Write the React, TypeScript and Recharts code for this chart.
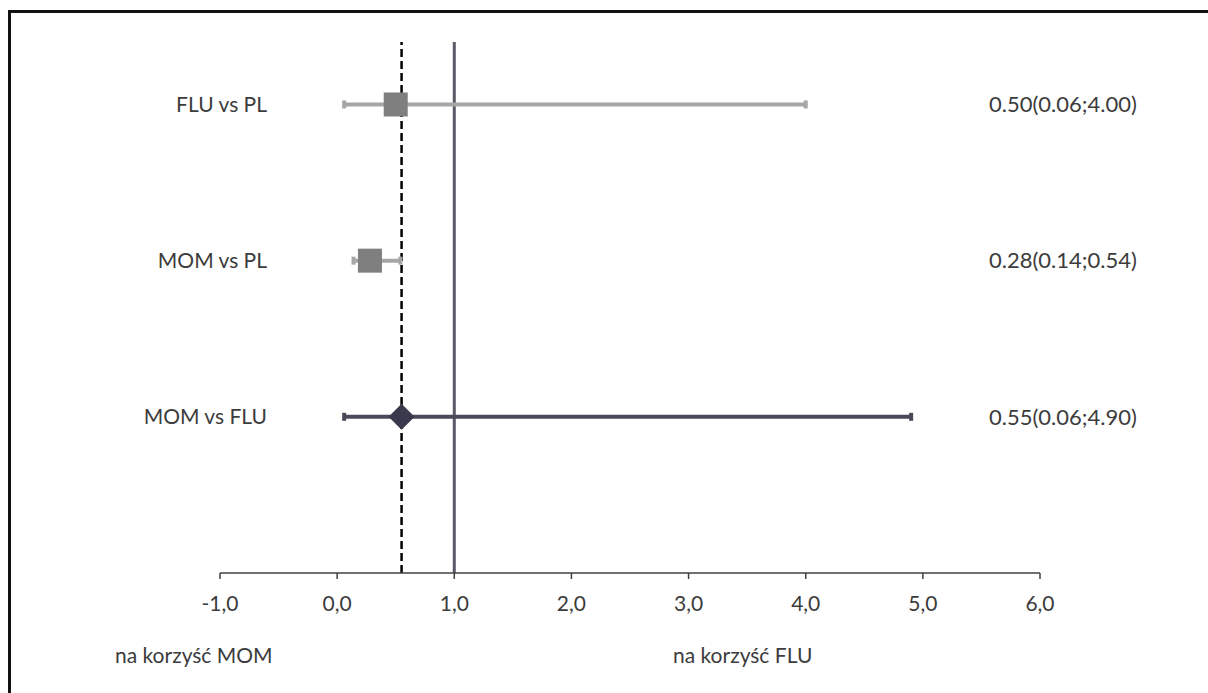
import { ComposedChart, XAxis, YAxis, Scatter, ErrorBar, ReferenceLine } from "recharts"

const comparisons = ['FLU vs PL', 'MOM vs PL', 'MOM vs FLU']
const estimates = [0.50, 0.28, 0.55]
const lowerCI = [0.06, 0.14, 0.06]
const upperCI = [4.00, 0.54, 4.90]
const rowPos = [3, 2, 1]
const xTicks = [-1, 0, 1, 2, 3, 4, 5, 6]
const noEffect = 1
const favourLabels = ['na korzyść MOM', 'na korzyść FLU']

const markColors = ['#7f7f7f', '#7f7f7f', '#3b394d']
const ciColors = ['#a6a6a6', '#a6a6a6', '#4a4859']
const font = "Lato, 'Open Sans', sans-serif"
const textColor = '#3c3c3c'
const fontSize = 21

const fmt = (v: number) => v.toFixed(2)

const Square = (color: string) => (props: any) => (
    <rect x={props.cx - 12} y={props.cy - 12} width={24} height={24} fill={color} />
)

const Diamond = (color: string) => (props: any) => {
    const { cx, cy } = props
    return <polygon points={`${cx},${cy - 13} ${cx + 13},${cy} ${cx},${cy + 13} ${cx - 13},${cy}`} fill={color} />
}

// row names on the left and the estimate text on the right, both hung on the y ticks
const RowTick = (props: any) => {
    const idx = rowPos.indexOf(props.payload.value)
    if (idx < 0) return null
    return (
        <g fill={textColor} fontFamily={font}>
            <text x={props.x + 55} y={props.y} dy="0.35em" textAnchor="end" fontSize={fontSize}>{comparisons[idx]}</text>
            <text x={props.x + 777} y={props.y} dy="0.35em" textAnchor="start" fontSize={22}>
                {`${fmt(estimates[idx])}(${fmt(lowerCI[idx])};${fmt(upperCI[idx])})`}
            </text>
        </g>
    )
}

export default function App() {
    return (
        <div style={{ position: 'absolute', left: 0, top: 0, width: 1208, height: 693, background: '#fff', fontFamily: font }}>
            <div style={{ position: 'absolute', left: 8, top: 10, right: 0, bottom: 0, borderLeft: '3px solid #111', borderTop: '3px solid #111' }} />
            <ComposedChart width={1208} height={693} margin={{ top: 42, right: 168, bottom: 75, left: 0 }}>
                <XAxis type="number" dataKey="x" domain={[-1, 6]} ticks={xTicks} interval={0}
                    allowDataOverflow height={45}
                    tickFormatter={(v: number) => v.toFixed(1).replace('.', ',')}
                    stroke="#404040" strokeWidth={1.5} tickSize={6} tickMargin={17}
                    tick={{ fill: textColor, fontSize: fontSize, fontFamily: font }} />
                <YAxis yAxisId="l" type="number" domain={[0, 3.4]} ticks={rowPos} width={220}
                    axisLine={false} tickLine={false} tick={<RowTick />} />
                <ReferenceLine yAxisId="l" x={noEffect} stroke="#5b5868" strokeWidth={3} />
                <ReferenceLine yAxisId="l" x={estimates[2]} stroke="#000" strokeWidth={2.5} strokeDasharray="8 4" />
                {comparisons.map((name, i) => (
                    <Scatter key={name} yAxisId="l" name={name} isAnimationActive={false}
                        data={[{ x: estimates[i], y: rowPos[i], err: [estimates[i] - lowerCI[i], upperCI[i] - estimates[i]] }]}
                        dataKey="y"
                        shape={i === 2 ? Diamond(markColors[i]) : Square(markColors[i])}>
                        <ErrorBar dataKey="err" direction="x" width={4} strokeWidth={4} stroke={ciColors[i]} isAnimationActive={false} />
                    </Scatter>
                ))}
            </ComposedChart>
            <div style={{ position: 'absolute', left: 115, top: 642, fontSize: fontSize, color: textColor, lineHeight: '26px' }}>{favourLabels[0]}</div>
            <div style={{ position: 'absolute', left: 673, top: 642, fontSize: fontSize, color: textColor, lineHeight: '26px' }}>{favourLabels[1]}</div>
        </div>
    )
}
